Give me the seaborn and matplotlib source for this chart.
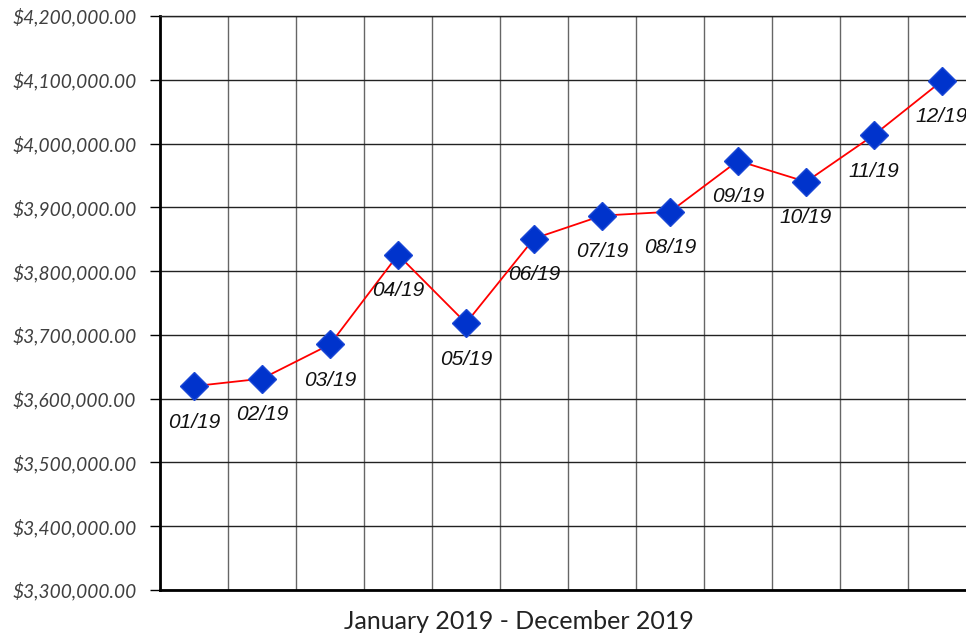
import pandas as pd
import numpy as np
import matplotlib
matplotlib.use('Agg')
import matplotlib.pyplot as plt
import matplotlib.ticker as mticker
import seaborn as sns

# data
months = ['01/19', '02/19', '03/19', '04/19', '05/19', '06/19',
          '07/19', '08/19', '09/19', '10/19', '11/19', '12/19']
values = [3619600, 3631400, 3685000, 3825600, 3718500, 3851000,
          3887000, 3893000, 3973000, 3940000, 4013500, 4098300]
y_ticks = [3300000, 3400000, 3500000, 3600000, 3700000, 3800000,
           3900000, 4000000, 4100000, 4200000]
x_title = 'January 2019 - December 2019'

df = pd.DataFrame({'month': months, 'value': values})

sns.set_style('white')
plt.rcParams['font.family'] = ['Liberation Sans', 'DejaVu Sans']

fig = plt.figure(figsize=(9.66, 6.35), dpi=100)
# the plot area runs past the right edge of the picture, as in the reference
ax = fig.add_axes([160 / 966, 1 - 590 / 635, 816 / 966, 574 / 635])

sns.lineplot(data=df, x='month', y='value', ax=ax, color='#ff0000', linewidth=1.3,
             marker='D', markersize=14, markerfacecolor='#0033cc',
             markeredgecolor='#1a47d6', markeredgewidth=1, zorder=3, sort=False)

# point labels under each marker
for i, (m, v) in enumerate(zip(months, values)):
    ax.annotate(m, (i, v), xytext=(0, -26), textcoords='offset points',
                ha='center', va='center', fontsize=15, fontstyle='italic',
                color='#111111', zorder=4)

ax.set_xlim(-0.5, len(months) - 0.5)
ax.set_ylim(y_ticks[0], y_ticks[-1])
ax.set_yticks(y_ticks)
ax.yaxis.set_major_formatter(mticker.FuncFormatter(lambda v, p: f'${v:,.2f}'))

# vertical grid at category boundaries
ax.set_xticks(np.arange(-0.5, len(months), 1.0), minor=True)
ax.set_xticks([])
ax.grid(True, which='minor', axis='x', color='#666666', linewidth=1)
ax.grid(True, which='major', axis='y', color='#222222', linewidth=1)
ax.set_axisbelow(True)

ax.tick_params(axis='y', which='major', direction='out', length=7, width=1,
               color='black', pad=10, left=True)
ax.tick_params(axis='x', which='minor', length=0)
for lab in ax.get_yticklabels():
    lab.set_fontfamily(['Lato', 'DejaVu Sans'])
    lab.set_fontstyle('italic')
    lab.set_fontsize(13.8)
    lab.set_color('#404040')

for side in ['left', 'bottom']:
    ax.spines[side].set_color('black')
    ax.spines[side].set_linewidth(2)
ax.spines['top'].set_color('#222222')
ax.spines['top'].set_linewidth(1)
ax.spines['right'].set_visible(False)

ax.set_ylabel('')
ax.set_xlabel(x_title, fontsize=18, fontfamily=['Lato', 'DejaVu Sans'],
              fontweight='normal', color='#222222', labelpad=10)
# center the title under the visible part of the chart
ax.xaxis.set_label_coords((519 - 160) / 816, -0.035)

fig.savefig('out.png', dpi=100)
